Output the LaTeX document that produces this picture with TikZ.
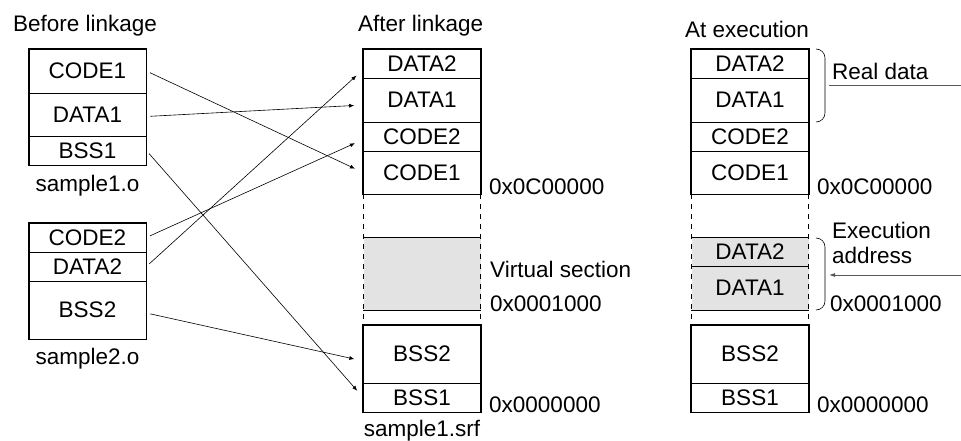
\documentclass[tikz,border=0pt]{standalone}
\usepackage{fontspec}
\setmainfont{Liberation Sans}
\usetikzlibrary{arrows.meta}

\begin{document}
\begin{tikzpicture}[x=1pt,y=-1pt]
\tikzset{
  sec/.style={rectangle,draw=black,line width=0.7pt,minimum width=117pt,inner sep=0pt,font=\fontsize{22.5}{27}\selectfont},
  vsec/.style={sec,draw=none,fill=black!11},
  outline/.style={draw=black,line width=1.5pt},
  gapline/.style={draw=black,line width=1.2pt,dash pattern=on 5pt off 5pt},
  link/.style={draw=black,line width=0.6pt,-{Latex[length=5pt,width=4pt]},shorten <=4pt,shorten >=9pt},
  lbl/.style={inner sep=0pt,font=\fontsize{22.5}{27}\selectfont},
  bracket/.style={draw=black,line width=0.6pt},
  pointer/.style={draw=black!65,line width=0.8pt}
}
\useasboundingbox (0,0) rectangle (961,441);
% titles
\node[lbl,anchor=base west] (t_before) at (13,32) {Before linkage};
\node[lbl,anchor=base west] (t_after) at (358,32) {After linkage};
\node[lbl,anchor=base west] (t_exec) at (685,38) {At execution};
% sample1.o
\node[sec,minimum height=44pt] (s1_code) at (87.5,71) {CODE1};
\node[sec,minimum height=43pt] (s1_data) at (87.5,114.5) {DATA1};
\node[sec,minimum height=29pt] (s1_bss) at (87.5,150.5) {BSS1};
\draw[outline] (s1_code.north west) rectangle (s1_bss.south east);
\node[lbl,anchor=base] (t_s1) at (87.5,191) {sample1.o};
% sample2.o
\node[sec,minimum height=29pt] (s2_code) at (87.5,237.5) {CODE2};
\node[sec,minimum height=29pt] (s2_data) at (87.5,266.5) {DATA2};
\node[sec,minimum height=58pt] (s2_bss) at (87.5,310) {BSS2};
\draw[outline] (s2_code.north west) rectangle (s2_bss.south east);
\node[lbl,anchor=base] (t_s2) at (87.5,364) {sample2.o};
% sample1.srf after linkage
\node[sec,minimum height=29pt] (a_data2) at (422,63.5) {DATA2};
\node[sec,minimum height=44pt] (a_data1) at (422,100) {DATA1};
\node[sec,minimum height=29pt] (a_code2) at (422,136.5) {CODE2};
\node[sec,minimum height=43pt] (a_code1) at (422,172.5) {CODE1};
\draw[outline] (a_data2.north west) rectangle (a_code1.south east);
\node[vsec,minimum height=72pt] (a_virt) at (422,274) {};
\node[sec,minimum height=58pt] (a_bss2) at (422,354) {BSS2};
\node[sec,minimum height=29pt] (a_bss1) at (422,397.5) {BSS1};
\draw[outline] (a_bss2.north west) rectangle (a_bss1.south east);
\draw[gapline] (a_code1.south west) -- (a_bss2.north west);
\draw[gapline] (a_code1.south east) -- (a_bss2.north east);
\draw[outline] (a_virt.north west) -- (a_virt.north east);
\draw[outline] (a_virt.south west) -- (a_virt.south east);
\node[lbl,anchor=base west] (t_a_top) at (489,194) {0x0C00000};
\node[lbl,anchor=base west] (t_a_virt) at (490,277) {Virtual section};
\node[lbl,anchor=base west] (t_a_mid) at (490,311) {0x0001000};
\node[lbl,anchor=base west] (t_a_bot) at (489,412) {0x0000000};
\node[lbl,anchor=base] (t_srf) at (422,436) {sample1.srf};
% at execution
\node[sec,minimum height=29pt] (x_data2) at (750,63.5) {DATA2};
\node[sec,minimum height=44pt] (x_data1) at (750,100) {DATA1};
\node[sec,minimum height=29pt] (x_code2) at (750,136.5) {CODE2};
\node[sec,minimum height=43pt] (x_code1) at (750,172.5) {CODE1};
\draw[outline] (x_data2.north west) rectangle (x_code1.south east);
\node[vsec,minimum height=28pt] (x_vdata2) at (750,252) {DATA2};
\node[vsec,minimum height=44pt] (x_vdata1) at (750,288) {DATA1};
\draw[line width=0.7pt] (x_vdata2.south west) -- (x_vdata2.south east);
\node[sec,minimum height=58pt] (x_bss2) at (750,354) {BSS2};
\node[sec,minimum height=29pt] (x_bss1) at (750,397.5) {BSS1};
\draw[outline] (x_bss2.north west) rectangle (x_bss1.south east);
\draw[gapline] (x_code1.south west) -- (x_bss2.north west);
\draw[gapline] (x_code1.south east) -- (x_bss2.north east);
\draw[outline] (x_vdata2.north west) -- (x_vdata2.north east);
\draw[outline] (x_vdata1.south west) -- (x_vdata1.south east);
\node[lbl,anchor=base west] (t_x_top) at (817,194) {0x0C00000};
\node[lbl,anchor=base west] (t_x_mid) at (830,311) {0x0001000};
\node[lbl,anchor=base west] (t_x_bot) at (817,412) {0x0000000};
% brackets and notes
\draw[bracket] (816,49) to[out=0,in=90] (825,58) -- (825,113) to[out=-90,in=0] (816,122);
\draw[bracket] (816,238) to[out=0,in=90] (825,247) -- (825,301) to[out=-90,in=0] (816,310);
\node[lbl,anchor=base west] (t_real) at (832,80) {Real data};
\node[lbl,anchor=base west] (t_exe1) at (832,238) {Execution};
\node[lbl,anchor=base west] (t_exe2) at (832,263) {address};
\coordinate (rd_from) at (829,85);
\coordinate (rd_to) at (961,85);
\draw[pointer] (rd_from) -- (rd_to);
\coordinate (ea_from) at (961,275);
\coordinate (ea_to) at (829,275);
\draw[pointer,-{Latex[length=6pt,width=4pt]}] (ea_from) -- (ea_to);
% linkage arrows
\draw[link] (s1_code.east) -- (a_code1.west);
\draw[link] ([yshift=-2pt]s1_data.east) -- ([yshift=-5pt]a_data1.west);
\draw[link] (s1_bss.east) -- (a_bss1.west);
\draw[link] (s2_code.east) -- ([yshift=-3pt]a_code2.west);
\draw[link] (s2_data.east) -- ([yshift=-6pt]a_data2.west);
\draw[link] ([yshift=-3pt]s2_bss.east) -- ([yshift=-7pt]a_bss2.west);
\end{tikzpicture}
\end{document}
